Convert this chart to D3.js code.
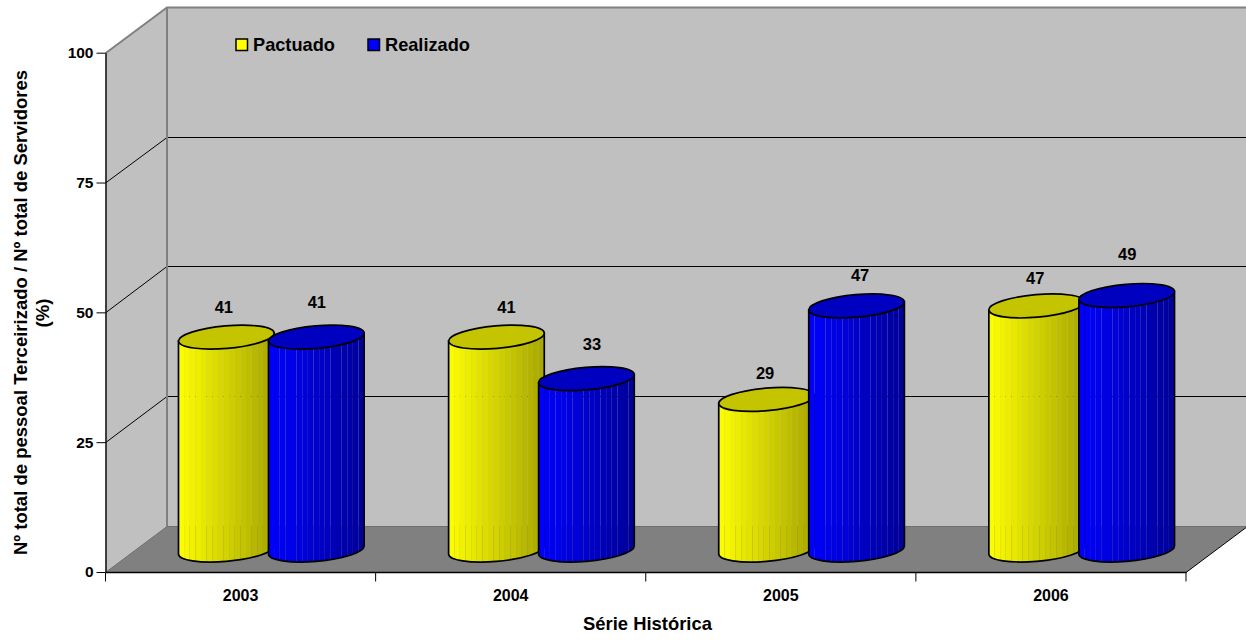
<!DOCTYPE html>
<html>
<head>
<meta charset="utf-8">
<script src="https://d3js.org/d3.v7.min.js"></script>
<style>
  html, body { margin: 0; padding: 0; background: #fff; }
  svg { display: block; }
  text { font-family: "Liberation Sans", Arial, sans-serif; font-weight: bold; fill: #000; }
</style>
</head>
<body>
<svg id="svg" width="1246" height="641"></svg>
<script>
const years = ["2003", "2004", "2005", "2006"];
const seriesNames = ["Pactuado", "Realizado"];
const pactuado = [41, 41, 29, 47];
const realizado = [41, 33, 47, 49];
const yTicks = [0, 25, 50, 75, 100];

const svgWidth = 1246, svgHeight = 641;
const plotLeft = 105.5, plotRight = 1186, plotBottom = 572, plotTop = 52.7;
const depthX = 61.5, depthY = 46;

const svg = d3.select("#svg");
const x = d3.scaleBand().domain(years).range([plotLeft, plotRight]);
const y = d3.scaleLinear().domain([0, 100]).range([plotBottom, plotTop]);
const xSeries = d3.scaleBand().domain(seriesNames).range([-90, 90]);

const colors = {
  Pactuado: { light: "#ffff00", dark: "#a6a600", top: "#c4c400" },
  Realizado: { light: "#0000ff", dark: "#000098", top: "#0000c0" }
};

// label nudges, in the same order as the values
const labelShift = {
  Pactuado: [[-2.5, -30], [10, -30], [-1.5, -26], [-1.5, -28]],
  Realizado: [[0.5, -35], [5.5, -34], [3.5, -31], [0.5, -41]]
};

// front and back y of a value, kept on pixel rows so the lines stay crisp
const yFront = d => y(d) + 0.5;
const yBack = d => Math.floor(yFront(d) - depthY) + 0.5;

// walls and floor
svg.append("path")
  .attr("d", `M${plotLeft},${yFront(100)} L${plotLeft + depthX},${yBack(100)} L${plotLeft + depthX},${yBack(0)} L${plotLeft},${yFront(0)} Z`)
  .attr("fill", "#c0c0c0");
svg.append("rect")
  .attr("x", plotLeft + depthX).attr("y", yBack(100))
  .attr("width", svgWidth - plotLeft - depthX).attr("height", yBack(0) - yBack(100))
  .attr("fill", "#c0c0c0");
svg.append("path")
  .attr("d", `M${plotLeft},${yFront(0)} L${plotLeft + depthX},${yBack(0)} L${plotRight + depthX},${yBack(0)} L${plotRight},${yFront(0)} Z`)
  .attr("fill", "#808080");

// gridlines, on the side wall and the back wall
yTicks.filter(d => d > 0 && d < 100).forEach(d => {
  svg.append("path")
    .attr("d", `M${plotLeft},${yFront(d)} L${plotLeft + depthX},${yBack(d)} L${svgWidth},${yBack(d)}`)
    .attr("fill", "none").attr("stroke", "#000").attr("stroke-width", 1);
});

// wall borders
svg.append("path")
  .attr("d", `M${plotLeft},${yFront(100)} L${plotLeft + depthX},${yBack(100)} L${svgWidth},${yBack(100)}`)
  .attr("fill", "none").attr("stroke", "#808080").attr("stroke-width", 2);
svg.append("path")
  .attr("d", `M${plotLeft + depthX},${yBack(100)} V${yBack(0)}`)
  .attr("fill", "none").attr("stroke", "#808080").attr("stroke-width", 2);
svg.append("path")
  .attr("d", `M${plotLeft},${yFront(0)} L${plotLeft + depthX},${yBack(0)} H${plotRight + depthX}`)
  .attr("fill", "none").attr("stroke", "#6e6e6e").attr("stroke-width", 1);
svg.append("path")
  .attr("d", `M${plotRight},${yFront(0)} L${plotRight + depthX},${yBack(0)}`)
  .attr("fill", "none").attr("stroke", "#000").attr("stroke-width", 1);

// cylinders
const rx = 48, ry = 11.3, tilt = -5 * Math.PI / 180;
const xExt = Math.sqrt(rx * rx * Math.cos(tilt) ** 2 + ry * ry * Math.sin(tilt) ** 2);
const yExt = Math.abs((rx * rx - ry * ry) * Math.sin(tilt) * Math.cos(tilt) / xExt);
const facets = 17;
let clipId = 0;

const barCenter = function(name, year) {
  return x(year) + x.bandwidth() / 2 + depthX / 2 + xSeries(name) + xSeries.bandwidth() / 2;
};
const barY = d => y(d) - depthY / 2 + 1;

const drawCylinder = function(name, year, value) {
  let c = colors[name];
  let cx = barCenter(name, year);
  let yBase = barY(0);
  let yTop = barY(value);
  let body = `M${cx - xExt},${yTop + yExt} V${yBase + yExt} ` +
    `A${rx},${ry} -5 0 0 ${cx + xExt},${yBase - yExt} V${yTop - yExt} Z`;

  let id = "clip" + clipId++;
  svg.append("clipPath").attr("id", id).append("path").attr("d", body);

  // facets sit side by side so the seams let the background through
  let shade = d3.interpolateRgb(c.light, c.dark);
  let g = svg.append("g").attr("clip-path", `url(#${id})`);
  let facetWidth = 2 * xExt / facets;
  d3.range(facets).forEach(i => {
    let x0 = cx - xExt + i * facetWidth;
    g.append("rect")
      .attr("x", x0).attr("y", yTop - 20)
      .attr("width", facetWidth).attr("height", yBase - yTop + 50)
      .attr("fill", shade((i + 0.5) / facets));
  });

  svg.append("path").attr("d", body)
    .attr("fill", "none").attr("stroke", "#000").attr("stroke-width", 1.7);
  svg.append("ellipse")
    .attr("cx", cx).attr("cy", yTop).attr("rx", rx).attr("ry", ry)
    .attr("transform", `rotate(-5 ${cx} ${yTop})`)
    .attr("fill", c.top).attr("stroke", "#000").attr("stroke-width", 1.7);
};

years.forEach((year, i) => {
  drawCylinder("Pactuado", year, pactuado[i]);
  drawCylinder("Realizado", year, realizado[i]);
});

// value labels
const drawLabel = function(name, year, value, shift) {
  svg.append("text")
    .attr("x", barCenter(name, year) + shift[0])
    .attr("y", barY(value) + shift[1])
    .attr("dy", "0.35em")
    .attr("text-anchor", "middle")
    .attr("font-size", 16.5)
    .text(value);
};
years.forEach((year, i) => {
  drawLabel("Pactuado", year, pactuado[i], labelShift.Pactuado[i]);
  drawLabel("Realizado", year, realizado[i], labelShift.Realizado[i]);
});

// axes
const yAxis = svg.append("g")
  .attr("transform", `translate(${plotLeft},0)`)
  .call(d3.axisLeft(y).tickValues(yTicks).tickSize(9).tickPadding(3).tickSizeOuter(0));
yAxis.attr("font-family", null);
yAxis.selectAll("text").attr("font-size", 15.5);
yAxis.selectAll("line").attr("stroke", "#000");
yAxis.select(".domain").attr("stroke", "#000").attr("stroke-width", 1.4);

const xAxis = svg.append("g")
  .attr("transform", `translate(0,${plotBottom})`)
  .call(d3.axisBottom(x).tickSize(0).tickPadding(18));
xAxis.attr("font-family", null);
xAxis.selectAll("text").attr("font-size", 16);
xAxis.select(".domain").attr("stroke", "#000").attr("stroke-width", 1.4);

years.concat(["end"]).forEach(d => {
  let tx = d === "end" ? plotRight : x(d);
  svg.append("line")
    .attr("x1", tx).attr("x2", tx).attr("y1", yFront(0)).attr("y2", yFront(0) + 9)
    .attr("stroke", "#000");
});

// axis titles
svg.append("text")
  .attr("x", 647.5).attr("y", 630)
  .attr("text-anchor", "middle").attr("font-size", 18.4)
  .text("Série Histórica");
svg.append("text")
  .attr("transform", "translate(27,312.5) rotate(-90)")
  .attr("text-anchor", "middle").attr("font-size", 18.5)
  .text("Nº total de pessoal Terceirizado / Nº total de Servidores");
svg.append("text")
  .attr("transform", "translate(49,313) rotate(-90)")
  .attr("text-anchor", "middle").attr("font-size", 18.5)
  .text("(%)");

// legend
const legendX = d3.scaleOrdinal().domain(seriesNames).range([236, 368]);
seriesNames.forEach(name => {
  svg.append("rect")
    .attr("x", legendX(name)).attr("y", 39)
    .attr("width", 11.5).attr("height", 11.5)
    .attr("fill", colors[name].light)
    .attr("stroke", "#000").attr("stroke-width", 1.5);
  svg.append("text")
    .attr("x", legendX(name) + 17).attr("y", 51)
    .attr("font-size", 18.2)
    .text(name);
});
</script>
</body>
</html>
